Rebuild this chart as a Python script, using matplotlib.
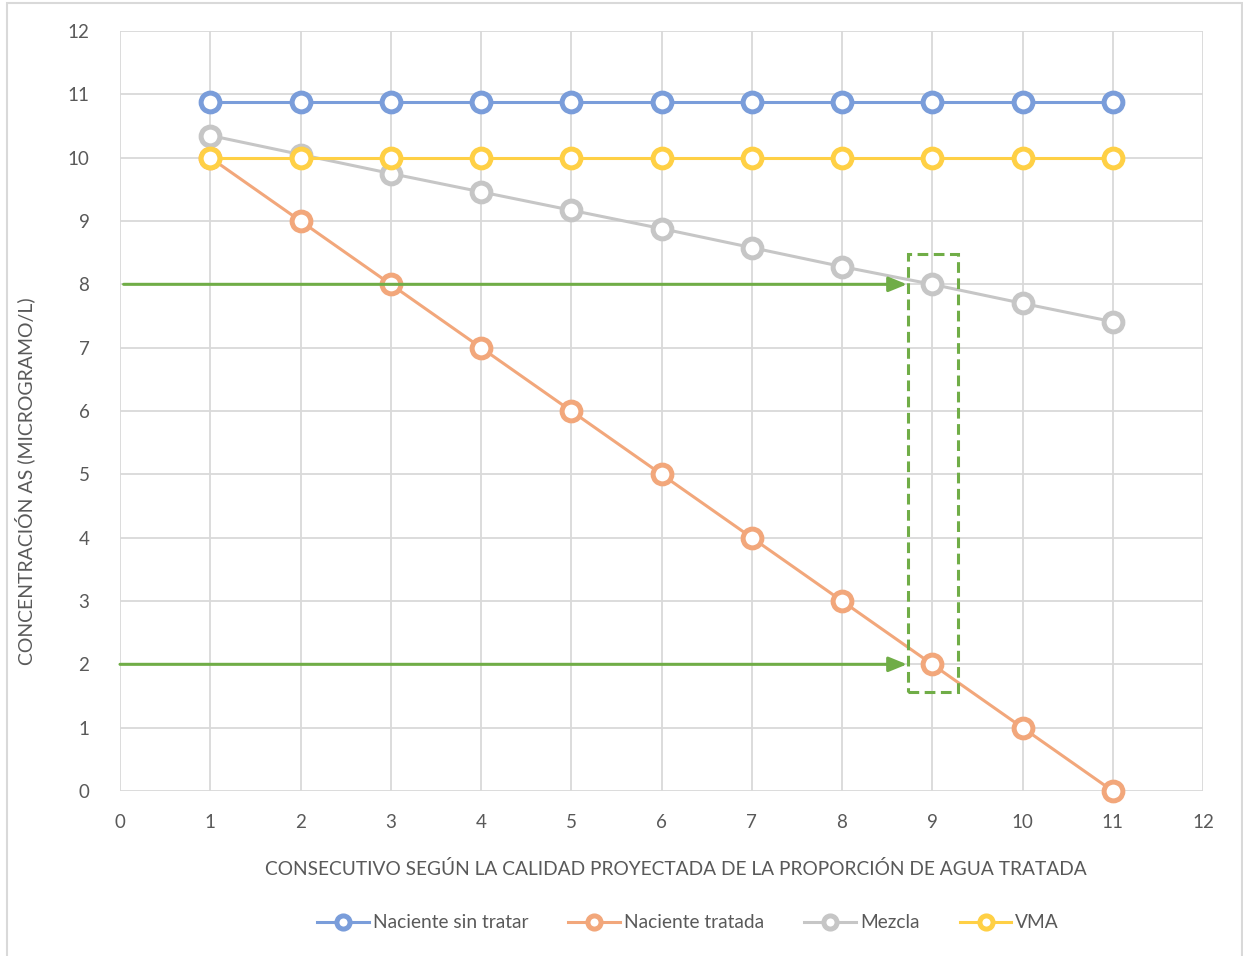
import matplotlib.pyplot as plt
from matplotlib.patches import Rectangle

plt.rcParams['font.family'] = ['Lato', 'DejaVu Sans']

# datos de las series
consecutivo = [1, 2, 3, 4, 5, 6, 7, 8, 9, 10, 11]
sin_tratar = [10.88] * 11
tratada = [10, 9, 8, 7, 6, 5, 4, 3, 2, 1, 0]
mezcla = [10.35, 10.05, 9.75, 9.46, 9.17, 8.88, 8.58, 8.28, 8.0, 7.70, 7.41]
vma = [10] * 11

series = [
    ('Naciente sin tratar', sin_tratar, '#7A9DDA'),
    ('Naciente tratada', tratada, '#F2A77B'),
    ('Mezcla', mezcla, '#C6C6C6'),
    ('VMA', vma, '#FFD045'),
]

# flechas y recuadro que señalan el consecutivo 9
niveles_flecha = [8, 2]
inicio_flecha = [0.04, 0.0]
fin_flecha = 8.72
recuadro_x = (8.73, 9.29)
recuadro_y = (1.56, 8.48)

gris_texto = '#595959'
gris_rejilla = '#D9D9D9'
verde = '#70AD47'

fig = plt.figure(figsize=(12.43, 9.56), dpi=100)
ax = fig.add_axes([120 / 1243, 165 / 956, 1083 / 1243, 760 / 956])

for nombre, valores, color in series:
    ax.plot(consecutivo, valores, color=color, lw=2.2, marker='o',
            markersize=13.5, markerfacecolor='white', markeredgecolor=color,
            markeredgewidth=3.6, label=nombre, zorder=3, clip_on=False)

for nivel, x0 in zip(niveles_flecha, inicio_flecha):
    ax.annotate('', xy=(fin_flecha, nivel), xytext=(x0, nivel),
                arrowprops=dict(arrowstyle='-|>,head_length=1.1,head_width=0.45',
                                color=verde, lw=2.2, shrinkA=0, shrinkB=0),
                zorder=4)

ax.add_patch(Rectangle((recuadro_x[0], recuadro_y[0]),
                       recuadro_x[1] - recuadro_x[0], recuadro_y[1] - recuadro_y[0],
                       fill=False, edgecolor=verde, lw=2.2,
                       linestyle=(0, (3.5, 1.8)), zorder=5))

ax.set_xlim(0, 12)
ax.set_ylim(0, 12)
ax.set_xticks(range(0, 13))
ax.set_yticks(range(0, 13))
ax.grid(True, color=gris_rejilla, lw=1.3)
ax.set_axisbelow(True)
for s in ax.spines.values():
    s.set_visible(False)
ax.tick_params(length=0, labelsize=13.5, colors=gris_texto)
ax.tick_params(axis='x', pad=16.5)
ax.tick_params(axis='y', pad=22)

fig.text(25 / 1243, (956 - 481) / 956, 'CONCENTRACIÓN AS (MICROGRAMO/L)',
         rotation=90, ha='center', va='center', fontsize=14, color=gris_texto)
fig.text(676 / 1243, (956 - 869) / 956,
         'CONSECUTIVO SEGÚN LA CALIDAD PROYECTADA DE LA PROPORCIÓN DE AGUA TRATADA',
         ha='center', va='center', fontsize=13.8, color=gris_texto)

handles, labels = ax.get_legend_handles_labels()
leg = fig.legend(handles, labels, loc='center', bbox_to_anchor=(688 / 1243, (956 - 923) / 956),
                 ncol=4, frameon=False, fontsize=13.8, handlelength=2.7,
                 columnspacing=2.1, handletextpad=0.2, markerscale=0.7)
for t in leg.get_texts():
    t.set_color(gris_texto)

# borde exterior del gráfico
fig.add_artist(Rectangle((7 / 1243, -0.01), 1235 / 1243, 953 / 956 + 0.01,
                         transform=fig.transFigure, fill=False,
                         edgecolor='#D9D9D9', lw=1.5))

fig.savefig('out.png', dpi=100, facecolor='white')
